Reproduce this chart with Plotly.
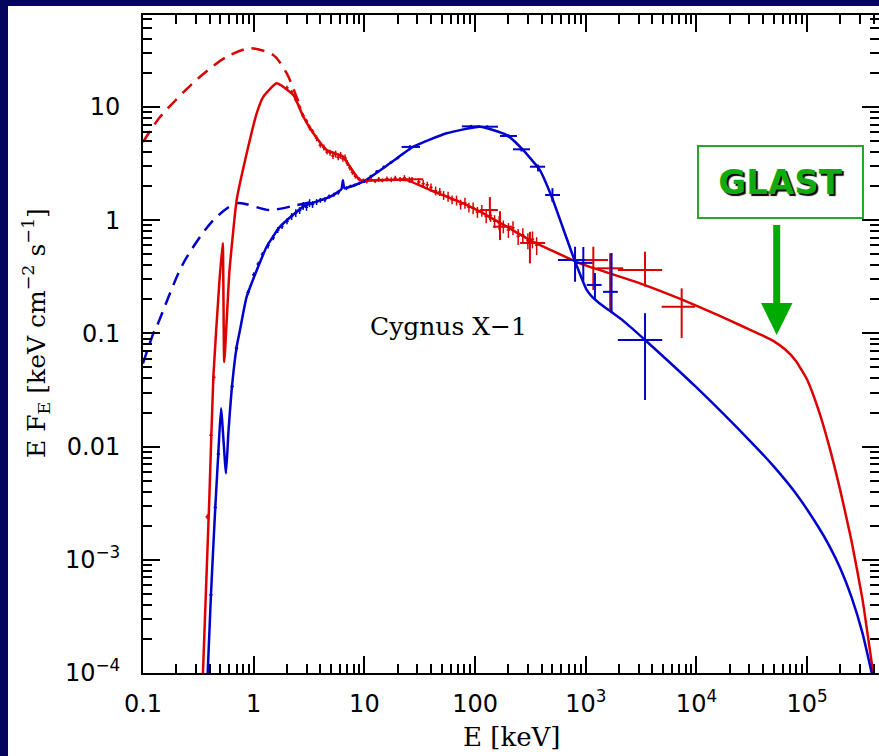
import plotly.graph_objects as go

# ---------------- model curves ----------------
red_model_E = [0.348, 0.397, 0.432, 0.489, 0.525, 0.542, 0.603, 0.702, 0.865, 1.064, 1.22, 1.61,
               2.28, 2.81, 3.46, 4.56, 6.44, 7.41, 9.12, 13.8, 24.1, 39.2, 78.2, 111, 193, 313,
               887, 3090, 7600, 15850, 25120, 39810, 50120, 63100, 79430, 100000, 125900,
               158500, 199500, 251200, 316200, 354800, 395000]
red_model_F = [1.0e-4, 3.37e-3, 0.0412, 0.279, 0.63, 0.0558, 0.348, 1.51, 3.9, 8.79, 12.3, 16.2,
               12.8, 8.2, 5.86, 4.17, 3.64, 2.97, 2.26, 2.26, 2.26, 1.85, 1.41, 1.19, 0.877, 0.668,
               0.416, 0.277, 0.197, 0.1445, 0.1175, 0.0955, 0.0851, 0.0724, 0.0569, 0.0389,
               0.0214, 0.0100, 4.07e-3, 1.48e-3, 4.47e-4, 2.07e-4, 1.0e-4]

red_unabs_E = [0.1, 0.143, 0.327, 0.57, 0.927, 1.5, 1.99, 2.44, 2.7]
red_unabs_F = [4.9, 8.2, 18.5, 27.8, 33.0, 28.8, 19.8, 12.3, 9.6]

blue_model_E = [0.384, 0.411, 0.45, 0.479, 0.507, 0.562, 0.59, 0.632, 0.702, 0.752, 0.865, 1.31,
                1.73, 2.81, 4.89, 6.2, 6.4, 6.6, 9.77, 17.0, 27.7, 55.3, 111, 193, 272, 385, 492,
                771, 1020, 1148, 1318, 2183, 3430, 10000, 31620, 50120, 79430, 125900, 158500,
                199500, 251200, 316200, 383000]
blue_model_F = [1.0e-4, 4.9e-4, 2.94e-3, 8.7e-3, 0.0218, 5.8e-3, 0.0131, 0.0316, 0.0764, 0.107,
                0.211, 0.583, 0.877, 1.32, 1.61, 1.88, 2.25, 1.92, 2.19, 3.18, 4.46, 5.86, 6.7,
                5.66, 4.17, 2.77, 1.61, 0.476, 0.242, 0.209, 0.186, 0.129, 0.0875, 0.0333,
                0.0108, 6.65e-3, 3.83e-3, 1.96e-3, 1.33e-3, 8.4e-4, 4.71e-4, 2.25e-4, 1.0e-4]

blue_unabs_E = [0.1, 0.124, 0.133, 0.231, 0.432, 0.702, 1.4, 2.44, 3.3]
blue_unabs_F = [0.0543, 0.1, 0.115, 0.416, 1.0, 1.41, 1.23, 1.36, 1.45]

# ---------------- dense (noisy) data ----------------
red_dense_E = [0.381, 0.411, 0.437, 2.0, 2.2, 2.4, 2.6, 2.8, 3.0, 3.2, 3.4, 3.7, 4.0, 4.3, 4.6, 4.9,
               5.2, 5.5, 5.8, 6.1, 6.4, 6.7, 7.0, 7.4, 7.8, 8.3, 9.0, 9.8, 10.5, 11.5, 12.5, 13.5,
               14.5, 16, 17.5, 19, 21, 23, 25.5, 31, 34, 37, 40, 44, 48, 52, 57, 62, 68, 74, 81,
               88, 96, 105, 115, 126, 138, 150, 165, 180, 200, 220, 245, 270, 300, 330, 360]
red_dense_F = [2.4e-3, 0.0126, 0.041, 14.8, 13.6, 11.6, 10.0, 8.4, 7.5, 6.6, 6.1, 5.3, 4.6, 4.4,
               4.0, 3.95, 3.7, 3.85, 3.6, 3.75, 3.5, 3.55, 3.2, 2.9, 2.65, 2.45, 2.3, 2.25, 2.2,
               2.28, 2.22, 2.3, 2.25, 2.32, 2.28, 2.35, 2.3, 2.36, 2.28, 2.18, 2.1, 2.05, 1.95,
               1.82, 1.78, 1.66, 1.62, 1.52, 1.5, 1.38, 1.42, 1.3, 1.28, 1.18, 1.22, 1.08, 1.1,
               0.98, 0.95, 0.88, 0.82, 0.86, 0.72, 0.74, 0.66, 0.68, 0.6]
red_dense_relerr = [0.05, 0.05, 0.05, 0.04, 0.04, 0.04, 0.05, 0.05, 0.05, 0.06, 0.05, 0.06, 0.05,
                    0.06, 0.05, 0.06, 0.06, 0.07, 0.06, 0.07, 0.06, 0.07, 0.06, 0.05, 0.05, 0.05,
                    0.04, 0.04, 0.04, 0.04, 0.04, 0.05, 0.04, 0.05, 0.05, 0.05, 0.05, 0.06, 0.06,
                    0.07, 0.08, 0.07, 0.08, 0.09, 0.08, 0.09, 0.1, 0.09, 0.1, 0.1, 0.11, 0.1,
                    0.12, 0.11, 0.12, 0.13, 0.12, 0.13, 0.14, 0.13, 0.15, 0.14, 0.16, 0.15,
                    0.16, 0.17, 0.18]

blue_dense_E = [0.411, 0.45, 0.48, 0.64, 0.70, 0.89, 1.0, 1.1, 1.2, 1.35, 1.5, 1.65, 1.8, 2.0,
                2.2, 2.4, 2.6, 2.8, 3.0, 3.2, 3.4, 3.7, 4.0, 4.4, 4.8, 5.3, 5.8, 6.9, 7.5,
                8.2, 9.0, 10, 11.5, 13, 15, 17.5, 20]
blue_dense_F = [4.9e-4, 2.9e-3, 8.6e-3, 0.034, 0.074, 0.23, 0.33, 0.41, 0.50, 0.6, 0.70, 0.82,
                0.88, 0.98, 1.08, 1.16, 1.22, 1.34, 1.30, 1.42, 1.38, 1.45, 1.50, 1.52, 1.62,
                1.68, 1.75, 1.92, 2.0, 2.05, 2.12, 2.2, 2.45, 2.7, 2.95, 3.25, 3.55]
blue_dense_relerr = [0.08, 0.08, 0.08, 0.06, 0.06, 0.05, 0.05, 0.05, 0.05, 0.06, 0.05, 0.06,
                     0.05, 0.06, 0.07, 0.08, 0.07, 0.08, 0.07, 0.08, 0.07, 0.06, 0.05, 0.05,
                     0.04, 0.04, 0.04, 0.04, 0.03, 0.03, 0.03, 0.03, 0.03, 0.03, 0.03, 0.03,
                     0.03]

# ---------------- high-energy crosses ----------------
red_x_E    = [27, 136, 168, 313, 1170, 1660, 3430, 7350]
red_x_Elo  = [21, 111, 145, 255, 916, 1250, 1950, 4850]
red_x_Ehi  = [34, 161, 215, 429, 1590, 2180, 4900, 9700]
red_x_F    = [2.3, 1.23, 0.877, 0.63, 0.445, 0.376, 0.363, 0.172]
red_x_Flo  = [2.2, 1.0, 0.668, 0.416, 0.242, 0.161, 0.259, 0.0912]
red_x_Fhi  = [2.4, 1.6, 1.2, 0.79, 0.583, 0.51, 0.527, 0.25]

blue_x_E   = [25.8, 92, 129, 200, 262, 370, 500, 800, 950, 1210, 1710, 3430]
blue_x_Elo = [21.7, 76, 104, 168, 220, 313, 429, 560, 800, 1020, 1430, 1950]
blue_x_Ehi = [31.8, 111, 161, 239, 313, 429, 585, 1000, 1150, 1390, 1950, 4900]
blue_x_F   = [4.44, 6.75, 6.7, 5.55, 4.23, 2.97, 1.67, 0.445, 0.42, 0.268, 0.233, 0.0875]
blue_x_Flo = [4.3, 6.55, 6.5, 5.35, 4.05, 2.7, 1.45, 0.286, 0.29, 0.197, 0.151, 0.0258]
blue_x_Fhi = [4.6, 6.95, 6.9, 5.75, 4.42, 3.1, 1.92, 0.583, 0.58, 0.342, 0.513, 0.151]

x_tickvals = [0.1, 1, 10, 100, 1e3, 1e4, 1e5]
x_ticktext = ["0.1", "1", "10", "100", "10<sup>3</sup>", "10<sup>4</sup>", "10<sup>5</sup>"]
y_tickvals = [1e-4, 1e-3, 1e-2, 0.1, 1, 10]
y_ticktext = ["10<sup>\u22124</sup>", "10<sup>\u22123</sup>", "0.01", "0.1", "1", "10"]

RED = "#dd0000"
BLUE = "#0000cc"
GREEN = "#00aa00"
NAVY = "#05055e"

# plot-area geometry in pixels
W, H = 879, 756
L, T, B, R = 143, 15, 673, 879


def px(xp):
    return (xp - L) / (R - L)


def py(yp):
    return (B - yp) / (B - T)


fig = go.Figure()

# models
fig.add_trace(go.Scatter(x=red_unabs_E, y=red_unabs_F, mode="lines",
                         line=dict(color=RED, width=2.5, dash="13px,8px", shape="spline", smoothing=0.8)))
fig.add_trace(go.Scatter(x=blue_unabs_E, y=blue_unabs_F, mode="lines",
                         line=dict(color=BLUE, width=2.5, dash="13px,8px", shape="spline", smoothing=0.8)))
fig.add_trace(go.Scatter(x=red_model_E, y=red_model_F, mode="lines",
                         line=dict(color=RED, width=2.5, shape="spline", smoothing=0.45)))
fig.add_trace(go.Scatter(x=blue_model_E, y=blue_model_F, mode="lines",
                         line=dict(color=BLUE, width=2.5, shape="spline", smoothing=0.45)))


def dense_trace(E, F, rel, color):
    return go.Scatter(
        x=E, y=F, mode="markers", marker=dict(size=2, color=color),
        error_y=dict(type="data", symmetric=True, array=[f * r for f, r in zip(F, rel)],
                     color=color, thickness=1.5, width=0),
        error_x=dict(type="data", symmetric=True, array=[e * 0.035 for e in E],
                     color=color, thickness=1.5, width=0))


def cross_trace(E, Elo, Ehi, F, Flo, Fhi, color):
    return go.Scatter(
        x=E, y=F, mode="markers", marker=dict(size=2, color=color),
        error_y=dict(type="data", symmetric=False,
                     array=[h - f for h, f in zip(Fhi, F)],
                     arrayminus=[f - l for f, l in zip(F, Flo)],
                     color=color, thickness=2, width=0),
        error_x=dict(type="data", symmetric=False,
                     array=[h - e for h, e in zip(Ehi, E)],
                     arrayminus=[e - l for e, l in zip(E, Elo)],
                     color=color, thickness=2, width=0))


fig.add_trace(dense_trace(red_dense_E, red_dense_F, red_dense_relerr, RED))
fig.add_trace(dense_trace(blue_dense_E, blue_dense_F, blue_dense_relerr, BLUE))
fig.add_trace(cross_trace(red_x_E, red_x_Elo, red_x_Ehi, red_x_F, red_x_Flo, red_x_Fhi, RED))
fig.add_trace(cross_trace(blue_x_E, blue_x_Elo, blue_x_Ehi, blue_x_F, blue_x_Flo, blue_x_Fhi, BLUE))

x_minor = [m * 10 ** k for k in range(-1, 6) for m in range(2, 10)]
y_minor = [m * 10 ** k for k in range(-4, 2) for m in range(2, 10)]

axis_common = dict(type="log", showgrid=False, zeroline=False, showline=True, linecolor="black",
                   linewidth=2, mirror="allticks", ticks="inside", ticklen=17, tickwidth=2,
                   tickcolor="black",
                   tickfont=dict(family="DejaVu Sans", size=24, color="black"))

fig.update_xaxes(**axis_common, range=[-1, 5.649], tickmode="array", tickvals=x_tickvals,
                 ticktext=x_ticktext, ticklabelstandoff=8,
                 minor=dict(ticks="inside", ticklen=9, tickwidth=1.5, tickcolor="black",
                            tickmode="array", tickvals=x_minor, showgrid=False))
fig.update_yaxes(**axis_common, range=[-4, 1.813], tickmode="array", tickvals=y_tickvals,
                 ticktext=y_ticktext, ticklabelstandoff=16,
                 minor=dict(ticks="inside", ticklen=9, tickwidth=1.5, tickcolor="black",
                            tickmode="array", tickvals=y_minor, showgrid=False))

shapes = [
    # white slide panel
    dict(type="rect", xref="paper", yref="paper", x0=px(8), x1=px(900), y0=py(790), y1=py(6),
         fillcolor="white", line=dict(width=0), layer="below"),
    # arrow shaft
    dict(type="rect", xref="paper", yref="paper", x0=px(773.2), x1=px(780.2), y0=py(306),
         y1=py(225), fillcolor=GREEN, line=dict(width=0)),
    # arrow head
    dict(type="path", xref="paper", yref="paper",
         path=f"M {px(761)},{py(303)} L {px(792.5)},{py(303)} L {px(776.7)},{py(335)} Z",
         fillcolor=GREEN, line=dict(width=0)),
]

annotations = [
    dict(text="Cygnus X\u22121", x=px(448), y=py(327), xref="paper", yref="paper",
         showarrow=False, xanchor="center", yanchor="middle",
         font=dict(family="DejaVu Serif", size=25, color="black")),
    dict(text="<b>GLAST</b>", x=px(780.5), y=py(182), xref="paper", yref="paper",
         showarrow=False, xanchor="center", yanchor="middle", width=163, height=70,
         bordercolor="#22aa22", borderwidth=2, borderpad=0, bgcolor="white",
         font=dict(family="DejaVu Sans", size=34, color="#11aa11", shadow="2px 2px 1px #000")),
    dict(text="E [keV]", x=0.5, y=py(737), xref="paper", yref="paper", showarrow=False,
         xanchor="center", yanchor="middle",
         font=dict(family="DejaVu Serif", size=26, color="black")),
    dict(text="E F<sub>E</sub> [keV cm<sup>\u22122</sup> s<sup>\u22121</sup>]", x=px(36), y=py(333),
         xref="paper", yref="paper", showarrow=False, textangle=-90,
         xanchor="center", yanchor="middle",
         font=dict(family="DejaVu Serif", size=25, color="black")),
]

fig.update_layout(width=W, height=H, margin=dict(l=L, r=W - R, t=T, b=H - B, autoexpand=False),
                  paper_bgcolor=NAVY, plot_bgcolor="white", showlegend=False,
                  shapes=shapes, annotations=annotations)

fig.write_html("out.html", config={"displayModeBar": False},
               post_script="document.body.style.margin='0';document.body.style.padding='0';"
                           "document.body.style.overflow='hidden';")
